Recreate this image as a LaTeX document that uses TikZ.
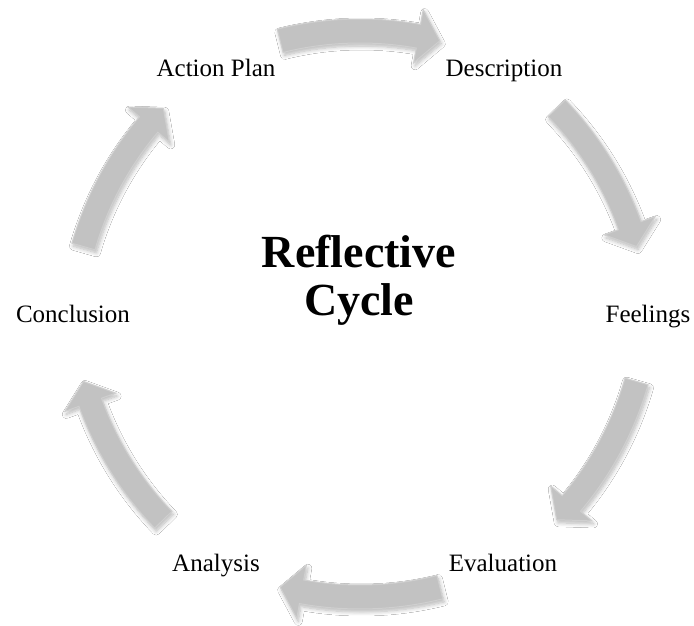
\documentclass[tikz,border=0pt]{standalone}
\usepackage{fontspec}
\setmainfont{Liberation Serif}
\usetikzlibrary{shadows.blur}
\tikzset{
  cycarrow/.style={fill=gray!48, draw=gray!38, line width=1pt,
    blur shadow={shadow xshift=1.5pt, shadow yshift=-3pt, shadow opacity=28,
      shadow blur radius=4pt, shadow blur steps=8}},
  lbl/.style={font=\fontsize{25}{30}\selectfont, text=black, inner sep=0pt, anchor=base},
  ttl/.style={font=\bfseries\fontsize{46}{52}\selectfont, text=black, inner sep=0pt, anchor=base}
}
% arrow centred at polar angle #1, drawn at the top of a rotated frame
\newcommand\cycarr[1]{%
  \pgfmathsetmacro\rot{#1-90}%
  \begin{scope}[rotate=\rot, shift={(0,-47)}]
    % arc centre at (0,0), middle radius 330 => apex at 283 from main centre
    \fill[cycarrow] (104:342) arc[start angle=104, end angle=79.8, radius=342]
      -- (79.8:357) -- (76:330) -- (79.8:303) -- (79.8:318)
      arc[start angle=79.8, end angle=104, radius=318] -- cycle;
  \end{scope}
}
\begin{document}
\begin{tikzpicture}[x=1pt,y=1pt]
  \useasboundingbox[fill=white] (-360,-312) rectangle (334,314);
  \foreach \c in {90,30,-30,-90,-150,150} {\cycarr{\c}}
  \node[lbl] (desc) at (144,237) {Description};
  \node[lbl] (feel) at (288,-9) {Feelings};
  \node[lbl] (eval) at (143,-258) {Evaluation};
  \node[lbl] (anal) at (-144,-258) {Analysis};
  \node[lbl] (conc) at (-287,-9) {Conclusion};
  \node[lbl] (act) at (-144,237) {Action Plan};
  \node[ttl] (title1) at (-1,46) {Reflective};
  \node[ttl] (title2) at (-1,-2) {Cycle};
\end{tikzpicture}
\end{document}
